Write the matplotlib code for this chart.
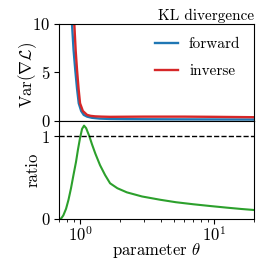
import matplotlib
matplotlib.use("Agg")
import matplotlib.pyplot as plt
import numpy as np

plt.rcParams['font.family'] = 'serif'
plt.rcParams['font.serif'] = ['cmr10', 'DejaVu Serif']
plt.rcParams['mathtext.fontset'] = 'cm'
plt.rcParams['axes.formatter.use_mathtext'] = True
plt.rcParams['font.size'] = 12
plt.rcParams['xtick.labelsize'] = 12
plt.rcParams['ytick.labelsize'] = 12
plt.rcParams['xtick.major.pad'] = 1.0
plt.rcParams['ytick.major.pad'] = 3.0

# forward KL gradient variance
theta_fwd = [0.85, 0.871, 0.895, 0.922, 0.95, 0.978, 1.02, 1.066, 1.13, 1.229, 1.4, 1.676, 2.2, 3.0, 5.0, 10.0, 20.0]
var_fwd = [13.0, 10.0, 7.3, 5.2, 3.3, 1.8, 1.0, 0.6, 0.42, 0.30, 0.22, 0.18, 0.16, 0.15, 0.14, 0.13, 0.12]

# inverse KL gradient variance
theta_inv = [0.88, 0.906, 0.928, 0.95, 0.975, 1.0, 1.05, 1.128, 1.2, 1.295, 1.45, 1.676, 2.2, 3.0, 6.0, 10.0, 20.0]
var_inv = [13.5, 10.0, 7.2, 5.2, 3.3, 1.8, 1.0, 0.6, 0.5, 0.45, 0.42, 0.40, 0.41, 0.42, 0.42, 0.40, 0.36]

# ratio
theta_ratio = [0.70, 0.721, 0.75, 0.786, 0.82, 0.856, 0.893, 0.933, 0.965, 1.0, 1.035, 1.071, 1.11, 1.174, 1.23, 1.301, 1.41, 1.538, 1.676, 1.9, 2.236, 2.9, 3.966, 5.2, 7.04, 9.5, 12.5, 16.0, 19.8, 20.0]
ratio = [0.0, 0.0, 0.04, 0.12, 0.23, 0.37, 0.53, 0.69, 0.84, 0.98, 1.09, 1.13, 1.10, 1.00, 0.90, 0.79, 0.65, 0.53, 0.43, 0.37, 0.32, 0.27, 0.23, 0.20, 0.175, 0.153, 0.134, 0.118, 0.106, 0.105]

W, H = 274, 261
fig = plt.figure(figsize=(W / 100, H / 100), dpi=100)
left, right = 59.3 / W, 254.3 / W
ytop, ymid, ybot = 1 - 24 / H, 1 - 120.7 / H, 1 - 218.7 / H
ax1 = fig.add_axes([left, ymid, right - left, ytop - ymid])
ax2 = fig.add_axes([left, ybot, right - left, ymid - ybot], sharex=ax1)

ax1.plot(theta_fwd, var_fwd, color='#1f77b4', lw=1.7, label='forward')
ax1.plot(theta_inv, var_inv, color='#d62728', lw=1.7, label='inverse')
ax1.set_xscale('log')
ax1.set_xlim(0.7, 20)
ax1.set_ylim(0, 10)
ax1.set_yticks([0, 5, 10])
ax1.set_ylabel(r'Var($\nabla\mathcal{L}$)')
ax1.yaxis.set_label_coords(-0.105, 0.47)
ax1.tick_params(axis='x', which='both', bottom=False, labelbottom=False)
ax1.legend(loc='upper right', frameon=False, handlelength=1.5, labelspacing=0.85,
           fontsize=11, borderaxespad=0.5, handletextpad=0.7)
ax1.set_title('KL divergence', loc='right', pad=3, fontsize=11)

ax2.plot(theta_ratio, ratio, color='#2ca02c', lw=1.5)
ax2.axhline(1.0, color='black', ls='--', lw=1.0)
ax2.set_ylim(0, 1.19)
ax2.set_yticks([0, 1])
ax2.set_ylabel('ratio')
ax2.yaxis.set_label_coords(-0.095, 0.5)
ax2.set_xlabel(r'parameter $\theta$')
ax2.xaxis.set_label_coords(0.5, -0.225)

fig.savefig('out.png', dpi=100)
